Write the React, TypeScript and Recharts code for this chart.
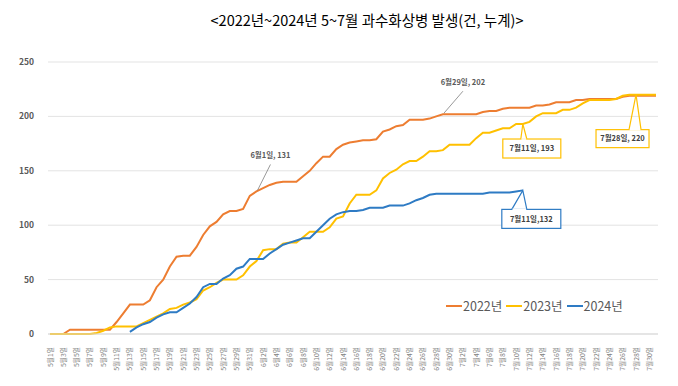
import React from "react"
import {
  LineChart,
  Line,
  XAxis,
  YAxis,
  CartesianGrid,
  Legend,
  ReferenceDot,
} from "recharts"

const FONT = '"Noto Sans CJK KR", "Noto Sans", sans-serif'

// 5월1일 ~ 7월31일
const MONTH_DAYS: [number, number][] = [
  [5, 31],
  [6, 30],
  [7, 31],
]
const dates: string[] = MONTH_DAYS.flatMap(([m, n]) =>
  Array.from({ length: n }, (_, i) => `${m}월${i + 1}일`)
)

const y2022 = [
  0, 0, 0, 4, 4, 4, 4, 4, 4, 4,
  11, 19, 27, 27, 27, 31, 43, 50, 62, 71,
  72, 72, 80, 91, 99, 103, 110, 113, 113, 115,
  127, 131, 134, 137, 139, 140, 140, 140, 145, 150,
  157, 163, 163, 170, 174, 176, 177, 178, 178, 179,
  186, 188, 191, 192, 197, 197, 197, 198, 200, 202,
  202, 202, 202, 202, 202, 204, 205, 205, 207, 208,
  208, 208, 208, 210, 210, 211, 213, 213, 213, 215,
  215, 216, 216, 216, 216, 216, 218, 219, 219, 219,
  219, 219,
]

const y2023 = [
  0, 0, 0, 0, 0, 0, 0, 1, 3, 6,
  7, 7, 7, 7, 10, 13, 16, 19, 23, 24,
  27, 29, 32, 40, 43, 47, 50, 50, 50, 54,
  62, 67, 77, 78, 78, 83, 84, 84, 89, 94,
  94, 94, 98, 106, 108, 120, 128, 128, 128, 132,
  143, 148, 151, 156, 159, 159, 163, 168, 168, 169,
  174, 174, 174, 174, 180, 185, 185, 187, 189, 189,
  193, 193, 195, 200, 203, 203, 203, 206, 206, 208,
  212, 215, 215, 215, 215, 216, 219, 220, 220, 220,
  220, 220,
]

const y2024: (number | null)[] = [
  null, null, null, null, null, null, null, null, null, null,
  null, null, 2, 6, 9, 11, 15, 18, 20, 20,
  24, 28, 34, 43, 46, 46, 51, 54, 60, 62,
  69, 69, 69, 74, 78, 82, 84, 86, 88, 88,
  94, 100, 106, 110, 112, 113, 113, 114, 116, 116,
  116, 118, 118, 118, 120, 123, 125, 128, 129, 129,
  129, 129, 129, 129, 129, 129, 130, 130, 130, 130,
  131, 132, null, null, null, null, null, null, null, null,
  null, null, null, null, null, null, null, null, null, null,
  null, null,
]

const yTicks = [0, 50, 100, 150, 200, 250]

const COLORS = { y2022: "#ED7D31", y2023: "#FFC000", y2024: "#2E7BC4" }
const NAMES = { y2022: "2022년", y2023: "2023년", y2024: "2024년" }

const chartData = dates.map((d, i) => ({
  date: d,
  y2022: y2022[i],
  y2023: y2023[i],
  y2024: y2024[i],
}))

const XTick = ({ x, y, payload }: any) => (
  <text
    transform={`translate(${x + 2.5},${y + 5}) rotate(-90)`}
    textAnchor="end"
    fontSize={6.8}
    fontFamily={FONT}
    fill="#7F7F7F"
  >
    {payload.value}
  </text>
)

// simple leader-line label (grey)
const LeaderLabel = (text: string, dx: number, dy: number) => (props: any) => {
  const { cx, cy } = props
  return (
    <g>
      <line x1={cx + 1} y1={cy - 1} x2={cx + dx} y2={cy + dy + 6} stroke="#7F7F7F" strokeWidth={0.8} />
      <text
        x={cx + dx}
        y={cy + dy}
        textAnchor="middle"
        fontSize={7.5}
        fontWeight={700}
        fontFamily={FONT}
        fill="#595959"
      >
        {text}
      </text>
    </g>
  )
}

// boxed callout with a wedge pointer
const BoxCallout =
  (text: string, color: string, left: number, right: number, top: number, bottom: number, w1: number, w2: number) =>
  (props: any) => {
    const { cx, cy } = props
    return (
      <g>
        <rect
          x={cx + left}
          y={cy + top}
          width={right - left}
          height={bottom - top}
          fill="#fff"
          stroke={color}
          strokeWidth={1.2}
        />
        <polyline
          points={`${cx + w1},${cy + top} ${cx},${cy} ${cx + w2},${cy + top}`}
          fill="none"
          stroke={color}
          strokeWidth={1.2}
        />
        <line x1={cx + w1 + 0.6} y1={cy + top} x2={cx + w2 - 0.6} y2={cy + top} stroke="#fff" strokeWidth={1.6} />
        <text
          x={cx + (left + right) / 2}
          y={cy + (top + bottom) / 2 + 2.8}
          textAnchor="middle"
          fontSize={7.5}
          fontWeight={700}
          fontFamily={FONT}
          fill="#404040"
        >
          {text}
        </text>
      </g>
    )
  }

const LegendContent = () => (
  <div style={{ display: "flex", alignItems: "center", fontFamily: FONT, fontSize: 12.5, color: "#595959" }}>
    {(["y2022", "y2023", "y2024"] as const).map((k) => (
      <div key={k} style={{ display: "flex", alignItems: "center", marginRight: 4 }}>
        <span style={{ display: "inline-block", width: 16, height: 2, background: COLORS[k], marginRight: 1 }} />
        <span>{NAMES[k]}</span>
      </div>
    ))}
  </div>
)

export default function App() {
  return (
    <div style={{ position: "absolute", left: 0, top: 0, width: 678, height: 386, background: "#fff" }}>
      <div
        style={{
          position: "absolute",
          top: 9,
          left: 0,
          width: 678,
          paddingLeft: 56,
          boxSizing: "border-box",
          textAlign: "center",
          fontFamily: FONT,
          fontSize: 14.5,
          color: "#000",
        }}
      >
        {"<2022년~2024년 5~7월 과수화상병 발생(건, 누계)>"}
      </div>
      <LineChart
        width={678}
        height={386}
        data={chartData}
        margin={{ top: 62, right: 20, bottom: 0, left: 0 }}
        style={{ fontFamily: FONT }}
      >
        <CartesianGrid vertical={false} stroke="#E3E3E3" strokeWidth={1} />
        <XAxis
          dataKey="date"
          interval={1}
          height={52}
          tick={<XTick />}
          tickLine={false}
          axisLine={{ stroke: "#D9D9D9" }}
          padding={{ left: 2, right: 2 }}
        />
        <YAxis
          width={48}
          domain={[0, 250]}
          ticks={yTicks}
          tick={{ fontSize: 8.5, fill: "#595959", fontWeight: 700, fontFamily: FONT }}
          tickLine={false}
          axisLine={false}
          tickMargin={8}
        />
        <Legend
          verticalAlign="middle"
          align="center"
          layout="horizontal"
          content={<LegendContent />}
          wrapperStyle={{ top: 296, left: 446, width: "auto" }}
        />
        {(["y2022", "y2023", "y2024"] as const).map((k) => (
          <Line
            key={k}
            type="linear"
            dataKey={k}
            name={NAMES[k]}
            stroke={COLORS[k]}
            strokeWidth={2}
            dot={false}
            activeDot={false}
            isAnimationActive={false}
            connectNulls={false}
          />
        ))}
        <ReferenceDot x={dates[31]} y={y2022[31]} shape={LeaderLabel("6월1일, 131", 14, -33)} />
        <ReferenceDot x={dates[59]} y={y2022[59]} shape={LeaderLabel("6월29일, 202", 20, -29)} />
        <ReferenceDot
          x={dates[71]}
          y={y2023[71]}
          shape={BoxCallout("7월11일, 193", COLORS.y2023, -20, 38, 15, 34, -2, 4)}
        />
        <ReferenceDot
          x={dates[88]}
          y={y2023[88]}
          shape={BoxCallout("7월28일, 220", COLORS.y2023, -40, 13, 35, 53, -7, 5)}
        />
        <ReferenceDot
          x={dates[71]}
          y={y2024[71] as number}
          shape={BoxCallout("7월11일,132", COLORS.y2024, -21, 38, 19, 38, -11, 4)}
        />
      </LineChart>
    </div>
  )
}
